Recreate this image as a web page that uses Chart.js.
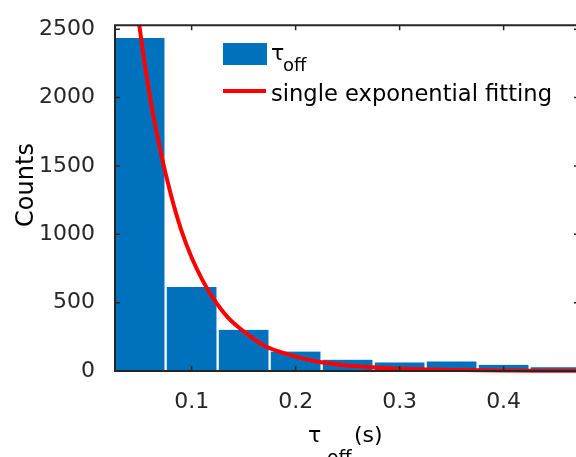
<!DOCTYPE html>
<html>
<head>
<meta charset="utf-8">
<script src="https://cdn.jsdelivr.net/npm/chart.js@4.4.0/dist/chart.umd.min.js"></script>
<style>
  html, body { margin: 0; padding: 0; background: #fff; }
  #wrap { width: 576px; height: 457px; }
</style>
</head>
<body>
<div id="wrap"><canvas id="histChart" width="576" height="457"></canvas></div>
<script>
// histogram bins (centers, s) and counts
const binCenters = [0.05, 0.1, 0.15, 0.2, 0.25, 0.3, 0.35, 0.4, 0.45];
const counts = [2435, 615, 301, 142, 83, 63, 70, 45, 27];

// fitted curve
const fitT = [0.047, 0.05, 0.06, 0.07, 0.08, 0.09, 0.1, 0.11, 0.12, 0.135, 0.15, 0.17, 0.185, 0.2, 0.22, 0.25, 0.28, 0.32, 0.36, 0.4, 0.44, 0.47];
const fitCounts = [2700, 2510, 2000, 1610, 1290, 1030, 830, 670, 540, 390, 290, 185, 140, 105, 70, 40, 24, 12, 7, 4, 2, 1];

const xTickValues = [0.1, 0.2, 0.3, 0.4];
const yTickValues = [0, 500, 1000, 1500, 2000, 2500];

const FONT = 'DejaVu Sans';
const AXIS_COLOR = '#262626';
const BAR_COLOR = '#0072BD';

// frame, inward ticks, titles and legend (matlab style)
const matlabFrame = {
  id: 'matlabFrame',
  afterDatasetsDraw(chart) {
    const { ctx, chartArea: a, scales } = chart;
    ctx.save();
    ctx.strokeStyle = AXIS_COLOR;
    ctx.lineWidth = 2;
    ctx.beginPath();
    ctx.moveTo(a.right + 2, a.top);
    ctx.lineTo(a.left, a.top);
    ctx.lineTo(a.left, a.bottom);
    ctx.lineTo(a.right + 2, a.bottom);
    ctx.stroke();

    ctx.lineWidth = 1.5;
    ctx.beginPath();
    xTickValues.forEach(v => {
      const px = scales.x.getPixelForValue(v);
      ctx.moveTo(px, a.bottom); ctx.lineTo(px, a.bottom - 5);
      ctx.moveTo(px, a.top); ctx.lineTo(px, a.top + 5);
    });
    yTickValues.forEach(v => {
      const py = scales.y.getPixelForValue(v);
      ctx.moveTo(a.left, py); ctx.lineTo(a.left + 5, py);
      ctx.moveTo(a.right, py); ctx.lineTo(a.right - 2, py);
    });
    ctx.stroke();
    ctx.restore();
  },
  afterDraw(chart) {
    const { ctx } = chart;
    ctx.save();
    ctx.fillStyle = '#000';
    ctx.textBaseline = 'alphabetic';

    // y title
    ctx.save();
    ctx.translate(33, 185);
    ctx.rotate(-Math.PI / 2);
    ctx.textAlign = 'center';
    ctx.font = `24px ${FONT}`;
    ctx.fillText('Counts', 0, 0);
    ctx.restore();

    // x title: tau_off (s)
    ctx.textAlign = 'left';
    ctx.font = `22px ${FONT}`;
    ctx.fillText('\u03C4', 308, 442);
    ctx.font = `19px ${FONT}`;
    ctx.fillText('off', 327, 464);
    ctx.font = `22px ${FONT}`;
    ctx.fillText('(s)', 354, 442);

    // legend
    ctx.fillStyle = BAR_COLOR;
    ctx.fillRect(223, 43, 44, 22);
    ctx.strokeStyle = '#ff0000';
    ctx.lineWidth = 4;
    ctx.beginPath();
    ctx.moveTo(223, 91); ctx.lineTo(266, 91);
    ctx.stroke();
    ctx.fillStyle = '#000';
    ctx.font = `22px ${FONT}`;
    ctx.fillText('\u03C4', 271, 60);
    ctx.font = `18px ${FONT}`;
    ctx.fillText('off', 283, 71);
    ctx.font = `22.6px ${FONT}`;
    ctx.fillText('single exponential fitting', 271, 101);
    ctx.restore();
  }
};

const ctx = document.getElementById('histChart').getContext('2d');
const chart = new Chart(ctx, {
  type: 'bar',
  data: {
    datasets: [
      {
        type: 'line',
        label: 'single exponential fitting',
        data: fitT.map((t, i) => ({ x: t, y: fitCounts[i] })),
        borderColor: '#ff0000',
        borderWidth: 4,
        pointRadius: 0,
        fill: false,
        cubicInterpolationMode: 'monotone',
        clip: { left: 0, top: 0, right: 0, bottom: 4 },
        order: 0
      },
      {
        type: 'bar',
        label: 'tau_off',
        data: binCenters.map((c, i) => ({ x: c, y: counts[i] })),
        backgroundColor: BAR_COLOR,
        borderColor: '#ffffff',
        borderWidth: { left: 1.5, right: 1.5, top: 0, bottom: 0 },
        barPercentage: 1,
        categoryPercentage: 1,
        order: 1
      }
    ]
  },
  options: {
    responsive: false,
    animation: false,
    devicePixelRatio: 1,
    layout: { padding: { top: 19, right: 0, bottom: 0, left: 0 } },
    plugins: {
      legend: { display: false },
      tooltip: { enabled: false }
    },
    scales: {
      x: {
        type: 'linear',
        min: 0.0263,
        max: 0.4696,
        offset: false,
        grid: { display: false, offset: false },
        border: { display: false },
        afterBuildTicks: s => { s.ticks = xTickValues.map(v => ({ value: v })); },
        afterFit: s => { s.height = 86; },
        ticks: {
          padding: 10,
          color: AXIS_COLOR,
          font: { family: FONT, size: 22 },
          callback: v => v.toFixed(1),
          maxRotation: 0
        }
      },
      y: {
        min: 0,
        max: 2529,
        grid: { display: false },
        border: { display: false },
        afterBuildTicks: s => { s.ticks = yTickValues.map(v => ({ value: v })); },
        afterFit: s => { s.width = 115; },
        ticks: {
          padding: 12,
          color: AXIS_COLOR,
          font: { family: FONT, size: 22 },
          callback: v => String(v)
        }
      }
    }
  },
  plugins: [matlabFrame]
});
</script>
</body>
</html>
